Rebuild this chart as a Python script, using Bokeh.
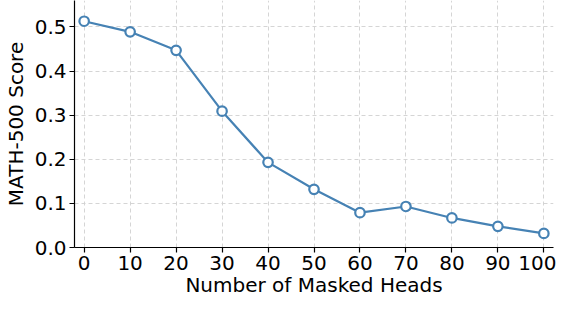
from bokeh.plotting import figure
from bokeh.models import Range1d, FixedTicker, PrintfTickFormatter
from bokeh.embed import file_html
from bokeh.resources import INLINE

masked_heads = [0, 10, 20, 30, 40, 50, 60, 70, 80, 90, 100]
math500_score = [0.513, 0.489, 0.447, 0.309, 0.193, 0.132, 0.079, 0.093, 0.067, 0.048, 0.032]
x_ticks = [0, 10, 20, 30, 40, 50, 60, 70, 80, 90, 100]
y_ticks = [0.0, 0.1, 0.2, 0.3, 0.4, 0.5]
x_label = "Number of Masked Heads"
y_label = "MATH-500 Score"

FONT = "DejaVu Sans"
COLOR = "#4682b4"

p = figure(width=556, height=299, output_backend="svg", toolbar_location=None,
           x_range=Range1d(-2.1, 102.1), y_range=Range1d(0, 0.56),
           min_border_left=20, min_border_right=3, min_border_top=0, min_border_bottom=20)

p.line(masked_heads, math500_score, line_color=COLOR, line_width=2.2)
p.scatter(masked_heads, math500_score, size=9.5, fill_color="white", line_color=COLOR, line_width=2.2)

p.outline_line_color = None
p.xaxis.ticker = FixedTicker(ticks=x_ticks)
p.yaxis.ticker = FixedTicker(ticks=y_ticks)
p.yaxis.formatter = PrintfTickFormatter(format="%.1f")
p.xaxis.axis_label = x_label
p.yaxis.axis_label = y_label

for ax in (p.xaxis, p.yaxis):
    ax.axis_label_text_font = FONT
    ax.axis_label_text_font_size = "20px"
    ax.axis_label_text_font_style = "normal"
    ax.axis_label_text_color = "black"
    ax.major_label_text_font = FONT
    ax.major_label_text_font_size = "20px"
    ax.major_label_text_color = "black"
    ax.axis_line_color = "black"
    ax.axis_line_width = 1.2
    ax.major_tick_line_color = "black"
    ax.major_tick_line_width = 1.2
    ax.major_tick_out = 5
    ax.major_tick_in = 0
    ax.minor_tick_line_color = None

p.xaxis.major_label_standoff = 3
p.yaxis.major_label_standoff = 3
p.xaxis.axis_label_standoff = 0
p.yaxis.axis_label_standoff = 4

for g in (p.xgrid, p.ygrid):
    g.grid_line_color = "#d0d0d0"
    g.grid_line_dash = "4 3"
    g.grid_line_width = 0.9

open("out.html", "w").write(file_html(p, INLINE))
